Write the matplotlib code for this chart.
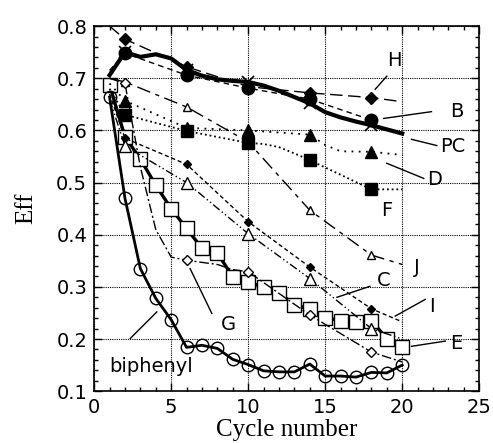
import matplotlib
matplotlib.use("Agg")
import matplotlib.pyplot as plt
import numpy as np

# ---------------- data ----------------
pc_x = [1, 2, 3, 4, 5, 6, 7, 8, 9, 10, 11, 12, 13, 14, 15, 16, 17, 18, 19, 20]
pc_y = [0.706, 0.750, 0.741, 0.746, 0.738, 0.716, 0.705, 0.698, 0.695, 0.693,
        0.686, 0.676, 0.664, 0.652, 0.635, 0.625, 0.617, 0.610, 0.602, 0.594]
pc_mark = [1, 5, 9, 13, 17]

b_x = [1, 2, 6, 10, 14, 18]
b_y = [0.715, 0.748, 0.706, 0.681, 0.660, 0.620]

h_x = [1, 2, 6, 10, 14, 18, 20]
h_y = [0.800, 0.775, 0.722, 0.684, 0.672, 0.663, 0.655]

j_x = [1, 2, 6, 10, 14, 18, 20]
j_y = [0.700, 0.693, 0.645, 0.578, 0.447, 0.361, 0.343]

d_x = [1, 2, 6, 10, 14, 15, 16, 18, 20]
d_y = [0.690, 0.657, 0.605, 0.600, 0.592, 0.572, 0.560, 0.559, 0.553]

f_x = [1, 2, 6, 10, 11, 12, 13, 14, 18, 20]
f_y = [0.680, 0.630, 0.599, 0.576, 0.574, 0.568, 0.556, 0.543, 0.487, 0.487]

i_x = [1, 2, 6, 10, 14, 18, 20]
i_y = [0.670, 0.585, 0.535, 0.425, 0.338, 0.258, 0.233]

c_x = [1, 2, 6, 10, 14, 18, 20]
c_y = [0.660, 0.570, 0.500, 0.402, 0.316, 0.220, 0.200]

g_x = [1, 2, 3, 4, 5, 6, 8, 9, 10, 14, 18, 20]
g_y = [0.700, 0.690, 0.530, 0.410, 0.357, 0.351, 0.343, 0.333, 0.329, 0.246, 0.175, 0.156]

e_x = [1, 2, 3, 4, 5, 6, 7, 8, 9, 10, 11, 12, 13, 14, 15, 16, 17, 18, 19, 20]
e_y = [0.687, 0.588, 0.545, 0.495, 0.450, 0.412, 0.374, 0.365, 0.319, 0.310,
       0.299, 0.289, 0.266, 0.257, 0.241, 0.235, 0.233, 0.235, 0.201, 0.184]

bp_x = [1, 2, 3, 4, 5, 6, 7, 8, 9, 10, 11, 12, 13, 14, 15, 16, 17, 18, 19, 20]
bp_y = [0.664, 0.470, 0.335, 0.278, 0.237, 0.184, 0.188, 0.182, 0.161, 0.151,
        0.139, 0.137, 0.137, 0.152, 0.129, 0.129, 0.127, 0.136, 0.135, 0.150]

# labels: (text, text x, text y, leader start, leader end)
labels = [
    ("H", 19.5, 0.735, (19.0, 0.704), (18.25, 0.679)),
    ("B", 23.55, 0.637, (21.9, 0.636), (18.8, 0.623)),
    ("PC", 23.3, 0.569, (22.25, 0.571), (20.6, 0.583)),
    ("D", 22.1, 0.505, (21.4, 0.508), (19.0, 0.537)),
    ("F", 19.0, 0.447, None, None),
    ("J", 20.95, 0.338, None, None),
    ("C", 18.8, 0.313, (17.9, 0.301), (15.76, 0.28)),
    ("I", 21.9, 0.262, (21.5, 0.276), (19.55, 0.244)),
    ("E", 23.5, 0.191, (22.8, 0.196), (20.6, 0.186)),
    ("G", 8.72, 0.227, (7.64, 0.249), (6.23, 0.335)),
    ("biphenyl", 3.7, 0.147, (2.34, 0.201), (4.07, 0.252)),
]

# ---------------- plot ----------------
fig = plt.figure(figsize=(4.93, 4.43), dpi=100)
ax = fig.add_axes([0.191, 0.117, 0.781, 0.824])

def sub(xs, picks):
    return [xs.index(p) for p in picks]

# E: thick solid with open squares
ax.plot(e_x, e_y, color="black", lw=2.4, marker="s", ms=10, mfc="white",
        mec="black", mew=1.0, zorder=3)
# biphenyl
ax.plot(bp_x, bp_y, color="black", lw=2.0, marker="o", ms=9, mfc="none",
        mec="black", mew=1.0, zorder=3)
# PC thick
ax.plot(pc_x, pc_y, color="black", lw=3.0, zorder=4)
ax.plot([pc_x[k] for k in pc_mark], [pc_y[k] for k in pc_mark], ls="none",
        marker="x", ms=9, mew=1.2, color="black", zorder=4)
# B
ax.plot(b_x, b_y, color="black", lw=1.0, ls=(0, (4, 3)), marker="o", ms=9,
        markevery=sub(b_x, [2, 6, 10, 14, 18]), zorder=3)
# H
ax.plot(h_x, h_y, color="black", lw=1.0, ls=(0, (9, 4)), marker="D", ms=6,
        markevery=sub(h_x, [2, 6, 10, 14, 18]), zorder=3)
# J
ax.plot(j_x, j_y, color="black", lw=1.0, ls=(0, (10, 4, 3, 4)), marker="^", ms=6,
        mfc="white", markevery=sub(j_x, [2, 6, 10, 14, 18]), zorder=3)
# D
ax.plot(d_x, d_y, color="black", lw=1.3, ls=(0, (1, 3)), marker="^", ms=8,
        markevery=sub(d_x, [2, 6, 10, 14, 18]), zorder=3)
# F
ax.plot(f_x, f_y, color="black", lw=1.3, ls=(0, (1, 1.6)), marker="s", ms=8,
        markevery=sub(f_x, [2, 6, 10, 14, 18]), zorder=3)
# I
ax.plot(i_x, i_y, color="black", lw=1.0, ls=(0, (3, 2)), marker="D", ms=4.5,
        markevery=sub(i_x, [2, 6, 10, 14, 18]), zorder=3)
# C
ax.plot(c_x, c_y, color="black", lw=1.0, ls=(0, (6, 2, 1, 2, 1, 2)), marker="^",
        ms=8, mfc="white", markevery=sub(c_x, [2, 6, 10, 14, 18]), zorder=3)
# G
ax.plot(g_x, g_y, color="black", lw=1.0, ls=(0, (7, 2, 1.5, 2)), marker="D",
        ms=5, mfc="white", markevery=sub(g_x, [2, 6, 10, 14, 18]), zorder=3)

for txt, tx, ty, p0, p1 in labels:
    ax.text(tx, ty, txt, fontsize=14, family="DejaVu Sans", ha="center",
            va="center", zorder=6)
    if p0 is not None:
        ax.plot([p0[0], p1[0]], [p0[1], p1[1]], color="black", lw=1.0, zorder=5)

ax.set_xlim(0, 25)
ax.set_ylim(0.1, 0.8)
ax.set_xticks([0, 5, 10, 15, 20, 25])
ax.set_yticks([0.1, 0.2, 0.3, 0.4, 0.5, 0.6, 0.7, 0.8])
ax.set_yticklabels(["0.1", "0.2", "0.3", "0.4", "0.5", "0.6", "0.7", "0.8"])
ax.set_xticks(np.arange(0, 26, 1), minor=True)
ax.set_yticks(np.arange(0.1, 0.801, 0.02), minor=True)
ax.tick_params(which="both", direction="in", top=True, right=True,
               labelsize=14, width=1.0)
ax.tick_params(which="major", length=6, pad=5)
ax.tick_params(which="minor", length=3)
ax.grid(True, which="major", ls=(0, (1, 1)), color="black", lw=0.8)
for s in ax.spines.values():
    s.set_linewidth(1.2)

ax.set_xlabel("Cycle number", family="Liberation Serif", fontsize=18, labelpad=1)
ax.set_ylabel("Eff", family="Liberation Serif", fontsize=18, labelpad=14)

fig.savefig("out.png", dpi=100)
